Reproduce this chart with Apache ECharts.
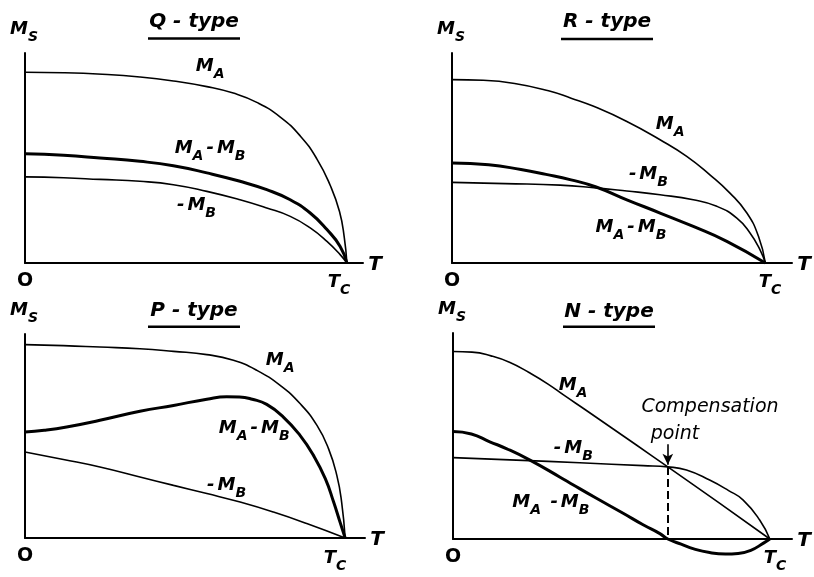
<!DOCTYPE html>
<html>
<head>
<meta charset="utf-8">
<script src="https://cdn.jsdelivr.net/npm/echarts@6/dist/echarts.min.js"></script>
<style>
  html, body { margin: 0; padding: 0; background: #fff; }
  #chart { width: 814px; height: 577px; }
</style>
</head>
<body>
<div id="chart"></div>
<script>
// Temperature runs from 0 to Tc (Tc = 100); magnetisation is in percent of the axis height.
const panelTitles = ['Q - type', 'R - type', 'P - type', 'N - type'];

// Q-type
const qMaT   = [0, 12, 24, 35.7, 46.1, 56.5, 64.7, 72, 79.3, 85.5, 90.7, 94.8, 97.7, 99.2, 100];
const qMaM   = [90.8, 90.6, 89.9, 88.6, 86.7, 84, 80.9, 76.5, 69.5, 60.5, 49.5, 37, 24.5, 12, 0];
const qDiffT = [0, 12, 23.3, 35.7, 46.1, 56.5, 66.8, 75.1, 82.4, 88.6, 93.8, 97.9, 100];
const qDiffM = [52, 51.3, 50, 48.4, 46.3, 42.9, 38.9, 34.9, 30.1, 23.8, 15.9, 7.9, 0];
const qMbT   = [0, 12, 23.3, 35.7, 46.1, 56.5, 66.8, 75.1, 82.4, 88.6, 93.8, 97.9, 100];
const qMbM   = [41, 40.6, 39.8, 38.9, 37.3, 34.1, 30.1, 26.2, 22.2, 16.7, 10.3, 4, 0];

// R-type
const rMaT   = [0, 10, 20, 30.8, 38, 45.2, 55.8, 66.4, 74.9, 82.3, 88.7, 94.1, 97.8, 100];
const rMaM   = [87.3, 87, 85.5, 82, 78.5, 74.6, 67.4, 58.7, 50.8, 42, 33.3, 23.8, 12.7, 0];
const rDiffT = [0, 11.7, 22, 30, 38, 46, 55.8, 66.4, 77, 87.7, 100];
const rDiffM = [47.6, 46.8, 44.5, 42.2, 39.6, 36.2, 30.1, 23.8, 17.4, 10.3, 0];
const rMbT   = [0, 17, 34.5, 45.2, 55.8, 66.4, 77, 84.5, 90.9, 95.1, 98.3, 100];
const rMbM   = [38.4, 37.8, 37.1, 35.9, 34.3, 32.5, 30.1, 27, 21.4, 14.3, 6.3, 0];

// P-type
const pMaT   = [0, 12, 23.4, 35.9, 46.4, 56.8, 65.1, 72.4, 79.7, 85.9, 91.2, 94.8, 97.4, 98.9, 100];
const pMaM   = [94.8, 94.3, 93.6, 92.8, 91.5, 89.9, 87.1, 82.2, 74.8, 65.9, 55.2, 43.8, 30.7, 17.6, 0];
const pDiffT = [0, 6, 13, 23.4, 35.9, 46.4, 56.8, 63, 67, 71, 75.5, 80.7, 85.9, 90.1, 93.8, 96.4, 98.4, 100];
const pDiffM = [52, 52.8, 54.4, 57.7, 62.1, 65, 68, 69.2, 69.1, 68, 65.5, 59.3, 50.3, 40.5, 29.1, 17.6, 7.8, 0];
const pMbT   = [0, 12, 23.4, 35.9, 46.4, 56.8, 67.2, 77.6, 88, 100];
const pMbM   = [42.2, 38.5, 34.8, 29.9, 25.8, 21.8, 17.6, 12.7, 7.1, 0];

// N-type
const nMaT   = [0, 6, 12, 18, 24, 30, 35, 42, 50, 58, 67.8, 84, 100];
const nMaM   = [91, 90.7, 88.9, 85.7, 80.8, 75.2, 69.8, 62.5, 54, 45.5, 35, 17.5, 0];
const nMbT   = [0, 20, 40, 60, 67.8, 73.7, 81, 87, 91.6, 96.8, 100];
const nMbM   = [39.5, 38.3, 37, 35.6, 35, 33.5, 28.6, 23.5, 18.9, 9.2, 0];
const nDiffT = [0, 5.8, 11.6, 17, 24.3, 33.8, 38, 45, 53.7, 60, 65.3, 67.8, 72, 76, 81, 86, 90, 94, 98, 100];
const nDiffM = [52.2, 51, 47.2, 43.8, 38.3, 30, 26.2, 20, 12.5, 6.9, 2.6, 0, -2.5, -4.8, -6.6, -7.3, -7, -5.5, -2, 0];

// Compensation point of the N-type curve (T, M) and the tail of its pointer arrow
const compPoint = [67.8, 35];
const compArrowFrom = 46;

// Curve labels: [T, M, text]
const qLabels = [[57.5, 92, 'MA'], [57.5, 53, 'MA-MB'], [52.8, 25.9, '-MB']];
const rLabels = [[69.6, 64.4, 'MA'], [62.2, 41, '-MB'], [57.1, 15.4, 'MA-MB']];
const pLabels = [[79.7, 85.6, 'MA'], [71.6, 52.3, 'MA-MB'], [62.5, 24.4, '-MB']];
const nLabels = [[37.9, 73.3, 'MA'], [37.5, 42.7, '-MB'], [30.9, 16.5, 'MA -MB']];

const FONT = '"DejaVu Sans", "Liberation Sans", sans-serif';
const INK = '#000';

const zip = (t, m) => t.map((v, i) => [v, m[i]]);

const richStyles = {
  m: { fontFamily: FONT, fontStyle: 'italic', fontWeight: 'bold', fontSize: 18, color: INK, lineHeight: 24, verticalAlign: 'top' },
  d: { fontFamily: FONT, fontStyle: 'italic', fontWeight: 'bold', fontSize: 18, color: INK, lineHeight: 24, verticalAlign: 'top', padding: [0, 3, 0, 3] },
  s: { fontFamily: FONT, fontStyle: 'italic', fontWeight: 'bold', fontSize: 14, color: INK, lineHeight: 14, verticalAlign: 'bottom' }
};

// 'MA-MB' -> M with subscript A, dash, M with subscript B
function richLabel(txt) {
  return txt
    .replace(/M([AB])/g, '{m|M}{s|$1}')
    .replace(/(^|\s)-/g, (a, sp) => (sp ? '{m| }' : '') + '{d|-}')
    .replace(/\}-\{/g, '}{d|-}{');
}

const grids = [
  { left: 25,  top: 53,  width: 338, height: 210 },
  { left: 452, top: 53,  width: 340, height: 210 },
  { left: 25,  top: 334, width: 340, height: 204 },
  { left: 453, top: 333, width: 339, height: 206 }
];
const axisEnd = [105, 108.5, 106.2, 107];

const curves = [
  [zip(qMaT, qMaM), zip(qDiffT, qDiffM), zip(qMbT, qMbM)],
  [zip(rMaT, rMaM), zip(rDiffT, rDiffM), zip(rMbT, rMbM)],
  [zip(pMaT, pMaM), zip(pDiffT, pDiffM), zip(pMbT, pMbM)],
  [zip(nMaT, nMaM), zip(nDiffT, nDiffM), zip(nMbT, nMbM)]
];
const labels = [qLabels, rLabels, pLabels, nLabels];

const series = [];
curves.forEach((set, g) => {
  set.forEach((data, k) => {
    const s = {
      type: 'line',
      xAxisIndex: g, yAxisIndex: g,
      data: data,
      smooth: 0.5,
      clip: false,
      showSymbol: false,
      symbol: 'none',
      silent: true,
      lineStyle: { color: INK, width: k === 1 ? 3 : 1.6 }
    };
    if (g === 3 && k === 1) {
      s.markLine = {
        silent: true,
        animation: false,
        label: { show: false },
        data: [
          [{ coord: [compPoint[0], compPoint[1]], symbol: 'none', lineStyle: { type: [8, 4], width: 2, color: INK } },
           { coord: [compPoint[0], 0], symbol: 'none' }],
          [{ coord: [compPoint[0], compArrowFrom], symbol: 'none', lineStyle: { type: 'solid', width: 1.6, color: INK } },
           { coord: [compPoint[0], compPoint[1] + 1], symbol: 'arrow', symbolSize: [8, 11] }]
        ]
      };
    }
    series.push(s);
  });
  series.push({
    type: 'scatter',
    xAxisIndex: g, yAxisIndex: g,
    silent: true,
    symbolSize: 0,
    itemStyle: { opacity: 1, color: INK },
    data: labels[g].map(l => ({ value: [l[0], l[1]], name: l[2] })),
    label: {
      show: true,
      position: 'inside',
      color: INK,
      opacity: 1,
      formatter: p => richLabel(p.name),
      rich: richStyles
    }
  });
});

// Panel decorations: titles with underline, axis letters
const graphic = [];
const titlePos = [[194, 22, 38.5], [607, 22, 39], [194, 311, 326.7], [609, 312, 326.7]];
const tcLabelPos = [[339, 285], [770, 285], [335, 561], [775, 561]];
grids.forEach((gr, g) => {
  const bottom = gr.top + gr.height;
  const endPx = gr.left + gr.width;
  const [tx, ty, uy] = titlePos[g];
  graphic.push({
    type: 'text', x: tx, y: ty, silent: true,
    style: { text: panelTitles[g], fill: INK, font: 'italic bold 20px ' + FONT, align: 'center', verticalAlign: 'middle' }
  });
  graphic.push({
    type: 'line', silent: true,
    shape: { x1: tx - 46, y1: uy, x2: tx + 46, y2: uy },
    style: { stroke: INK, lineWidth: 2.5 }
  });
  graphic.push({
    type: 'text', x: gr.left - 1, y: gr.top - 21, silent: true,
    style: { text: '{m|M}{s|S}', rich: richStyles, align: 'center', verticalAlign: 'middle' }
  });
  graphic.push({
    type: 'text', x: gr.left, y: bottom + 18, silent: true,
    style: { text: 'O', fill: INK, font: 'bold 19px ' + FONT, align: 'center', verticalAlign: 'middle' }
  });
  graphic.push({
    type: 'text', x: endPx + 12, y: bottom + 2, silent: true,
    style: { text: 'T', fill: INK, font: 'italic bold 20px ' + FONT, align: 'center', verticalAlign: 'middle' }
  });
  graphic.push({
    type: 'text', x: tcLabelPos[g][0], y: tcLabelPos[g][1], silent: true,
    style: { text: '{m|T}{s|C}', rich: richStyles, align: 'center', verticalAlign: 'middle' }
  });
});
graphic.push({
  type: 'text', x: 710, y: 407, silent: true,
  style: { text: 'Compensation', fill: INK, font: 'italic 19px ' + FONT, align: 'center', verticalAlign: 'middle' }
});
graphic.push({
  type: 'text', x: 675, y: 434, silent: true,
  style: { text: 'point', fill: INK, font: 'italic 19px ' + FONT, align: 'center', verticalAlign: 'middle' }
});

const axisLine = { show: true, onZero: true, lineStyle: { color: INK, width: 2 } };

const chart = echarts.init(document.getElementById('chart'), null, { renderer: 'canvas' });
chart.setOption({
  animation: false,
  backgroundColor: '#fff',
  grid: grids.map(g => Object.assign({ containLabel: false }, g)),
  xAxis: grids.map((g, i) => ({
    type: 'value', gridIndex: i, min: 0, max: axisEnd[i],
    axisLine: axisLine, axisTick: { show: false }, axisLabel: { show: false }, splitLine: { show: false }
  })),
  yAxis: grids.map((g, i) => ({
    type: 'value', gridIndex: i, min: 0, max: 100,
    axisLine: axisLine, axisTick: { show: false }, axisLabel: { show: false }, splitLine: { show: false }
  })),
  series: series,
  graphic: graphic
});
</script>
</body>
</html>
